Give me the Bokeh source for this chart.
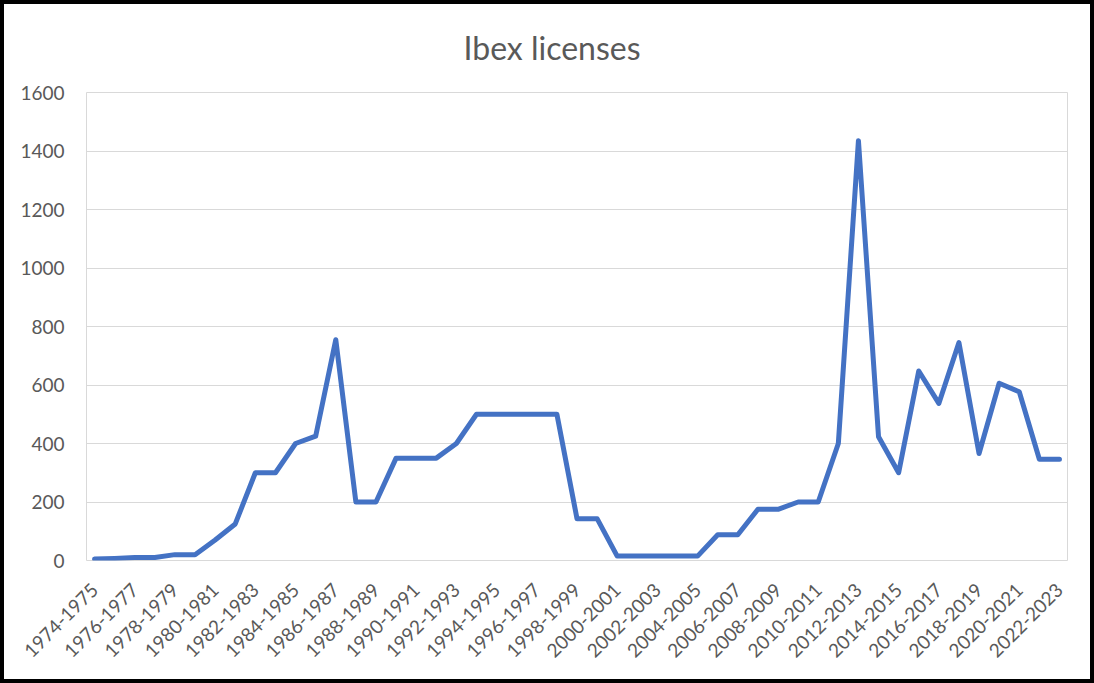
import math
from bokeh.plotting import figure
from bokeh.models import Range1d, FixedTicker
from bokeh.embed import file_html
from bokeh.resources import INLINE

seasons = [
    "1974-1975", "1975-1976", "1976-1977", "1977-1978", "1978-1979", "1979-1980",
    "1980-1981", "1981-1982", "1982-1983", "1983-1984", "1984-1985", "1985-1986",
    "1986-1987", "1987-1988", "1988-1989", "1989-1990", "1990-1991", "1991-1992",
    "1992-1993", "1993-1994", "1994-1995", "1995-1996", "1996-1997", "1997-1998",
    "1998-1999", "1999-2000", "2000-2001", "2001-2002", "2002-2003", "2003-2004",
    "2004-2005", "2005-2006", "2006-2007", "2007-2008", "2008-2009", "2009-2010",
    "2010-2011", "2011-2012", "2012-2013", "2013-2014", "2014-2015", "2015-2016",
    "2016-2017", "2017-2018", "2018-2019", "2019-2020", "2020-2021", "2021-2022",
    "2022-2023",
]
licenses = [
    5, 7, 10, 10, 20, 20, 70, 125, 300, 300,
    400, 425, 755, 200, 200, 350, 350, 350, 400, 500,
    500, 500, 500, 500, 143, 143, 15, 15, 15, 15,
    15, 88, 88, 175, 175, 200, 200, 400, 1435, 423,
    300, 648, 537, 745, 366, 606, 577, 346, 346,
]
y_ticks = [0, 200, 400, 600, 800, 1000, 1200, 1400, 1600]
title_text = "Ibex licenses"

xs = list(range(len(seasons)))

p = figure(width=1086, height=675, output_backend="svg", toolbar_location=None,
           x_range=Range1d(-0.4, len(seasons) - 1 + 0.4),
           y_range=Range1d(y_ticks[0], y_ticks[-1]),
           min_border_left=82, min_border_right=31, min_border_top=88, min_border_bottom=127)
p.styles = {"border": "4px solid black", "box-sizing": "content-box"}
p.background_fill_color = "white"
p.border_fill_color = "white"
p.outline_line_color = "#d9d9d9"
p.outline_line_width = 1

p.title.text = title_text
p.title.align = "left"
p.title.vertical_align = "top"
p.title.offset = 377
p.title.text_font = "Lato"
p.title.text_font_size = "32px"
p.title.text_font_style = "normal"
p.title.text_color = "#595959"
p.title.standoff = 47

p.line(xs, licenses, line_color="#4472C4", line_width=5, line_join="round", line_cap="round")

p.xaxis.ticker = FixedTicker(ticks=xs[::2])
p.xaxis.major_label_overrides = {i: s for i, s in zip(xs, seasons)}
p.xaxis.major_label_orientation = math.pi / 4
p.xaxis.axis_line_color = None
p.xaxis.major_tick_line_color = None
p.xaxis.minor_tick_line_color = None
p.xaxis.major_tick_out = 0
p.xaxis.major_tick_in = 0
p.xaxis.major_label_standoff = 26
p.xaxis.major_label_text_font = "Lato"
p.xaxis.major_label_text_font_size = "19px"
p.xaxis.major_label_text_color = "#595959"
p.xgrid.visible = False

p.yaxis.ticker = FixedTicker(ticks=y_ticks)
p.yaxis.axis_line_color = None
p.yaxis.major_tick_line_color = None
p.yaxis.minor_tick_line_color = None
p.yaxis.major_tick_out = 0
p.yaxis.major_tick_in = 0
p.yaxis.major_label_standoff = 22
p.yaxis.major_label_text_font = "Lato"
p.yaxis.major_label_text_font_size = "19px"
p.yaxis.major_label_text_color = "#595959"
p.ygrid.ticker = FixedTicker(ticks=y_ticks)
p.ygrid.grid_line_color = "#d9d9d9"
p.ygrid.grid_line_width = 1

open("out.html", "w").write(file_html(p, INLINE))
